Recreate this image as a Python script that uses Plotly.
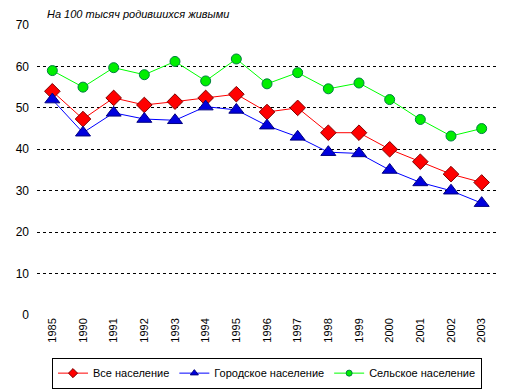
import plotly.graph_objects as go

years = ["1985", "1990", "1991", "1992", "1993", "1994", "1995", "1996",
         "1997", "1998", "1999", "2000", "2001", "2002", "2003"]
all_pop = [54.0, 47.3, 52.4, 50.7, 51.5, 52.4, 53.3, 49.0, 50.0, 44.0, 44.0, 40.0, 37.0, 34.0, 32.0]
urban = [52.0, 44.0, 48.8, 47.3, 47.0, 50.3, 49.5, 45.7, 43.0, 39.3, 39.0, 35.0, 32.0, 30.0, 27.0]
rural = [59.0, 55.0, 59.7, 58.0, 61.2, 56.5, 61.8, 55.8, 58.5, 54.6, 56.0, 52.0, 47.2, 43.2, 45.0]
names = ["Все население", "Городское население", "Сельское население"]
y_ticks = [0, 10, 20, 30, 40, 50, 60, 70]

styles = [
    dict(line="#ff0000", fill="#ff0000", edge="#800000", symbol="diamond", size=12, lsize=7),
    dict(line="#0000ff", fill="#0000dd", edge="#000080", symbol="triangle-up", size=13, lsize=7),
    dict(line="#00ff00", fill="#00ee00", edge="#008040", symbol="circle", size=10, lsize=6),
]
series = [all_pop, urban, rural]

fig = go.Figure()
for name, vals, st in zip(names, series, styles):
    fig.add_trace(go.Scatter(x=years, y=vals, name=name, mode="lines+markers", showlegend=False,
                             line=dict(color=st["line"], width=1),
                             marker=dict(symbol=st["symbol"], size=st["size"], color=st["fill"],
                                         line=dict(color=st["edge"], width=1))))
for name, st in zip(names, styles):
    fig.add_trace(go.Scatter(x=[None], y=[None], name=name, mode="lines+markers", showlegend=True,
                             line=dict(color=st["line"], width=1),
                             marker=dict(symbol=st["symbol"], size=st["lsize"], color=st["fill"],
                                         line=dict(color=st["edge"], width=1))))

fig.update_layout(
    width=511, height=390,
    margin=dict(l=37, r=14, t=25, b=75, autoexpand=False),
    paper_bgcolor="white", plot_bgcolor="white",
    font=dict(family="Arial, Liberation Sans, sans-serif", size=11, color="black"),
    showlegend=True,
    legend=dict(orientation="h", x=0.5, xanchor="center", y=-0.147, yanchor="top",
                bordercolor="black", borderwidth=1, font=dict(size=11),
                itemwidth=30, tracegroupgap=0),
    annotations=[dict(text="<i>На 100 тысяч родившихся живыми</i>", xref="paper", yref="paper",
                      x=0.017, y=1.0, xanchor="left", yanchor="bottom", yshift=3,
                      showarrow=False, font=dict(size=11))],
)
fig.update_xaxes(type="category", range=[-0.5, 14.5], tickangle=-90, showgrid=False,
                 showline=False, ticks="", zeroline=False, tickfont=dict(size=11),
                 automargin=False)
fig.update_yaxes(range=[0, 70], tickvals=y_ticks, showgrid=True, gridcolor="black",
                 griddash="3px,3px", gridwidth=1, zeroline=False, showline=False,
                 ticks="", tickfont=dict(size=12), ticklabelstandoff=7, automargin=False)

fig.write_html("out.html", config={"displayModeBar": False},
               post_script="document.body.style.margin='0';")
